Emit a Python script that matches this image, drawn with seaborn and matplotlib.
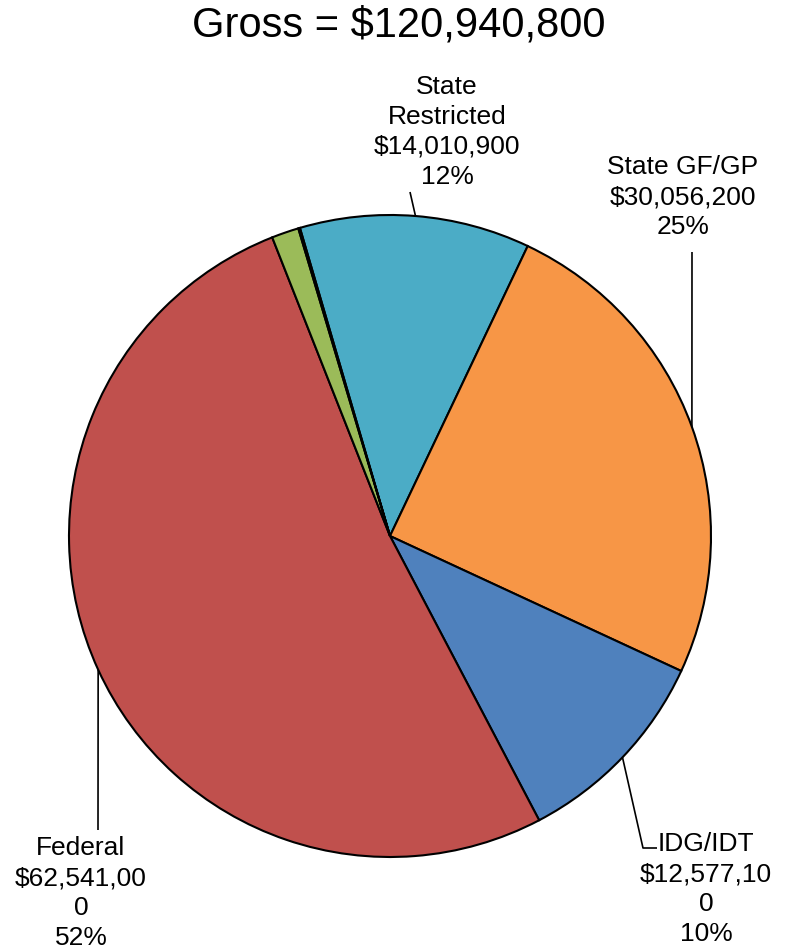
import numpy as np
import matplotlib
matplotlib.use("Agg")
import matplotlib.pyplot as plt
import seaborn as sns

sns.set_style("white")
plt.rcParams['font.family'] = ['Liberation Sans', 'DejaVu Sans']

# funding sources (two last slices have no label on the chart)
sources = ["State Restricted", "State GF/GP", "IDG/IDT", "Federal", "Other", "Other (small)"]
amounts = [14010900, 30056200, 12577100, 62541000, 1655600, 100000]
gross = 120940800
label_text = [
    "State\nRestricted\n$14,010,900\n12%",
    "State GF/GP\n$30,056,200\n25%",
    "IDG/IDT\n$12,577,10\n0\n10%",
    "Federal\n$62,541,00\n0\n52%",
]
colors = ["#4BACC6", "#F79646", "#4F81BD", "#C0504D", "#9BBB59", "#9BBB59"]

W, H = 786, 951
fig = plt.figure(figsize=(W / 100, H / 100), dpi=100)
ax = fig.add_axes([0, 0, 1, 1])
ax.axis("off")

cx, cy, R = 390, H - 536, 321
wedges, _ = ax.pie(amounts, colors=colors, center=(cx, cy), radius=R,
                   startangle=106.3, counterclock=False,
                   wedgeprops=dict(edgecolor="black", linewidth=1.5))
ax.set_xlim(0, W)
ax.set_ylim(0, H)
ax.set_aspect("equal")

def edge_point(w):
    th = np.deg2rad((w.theta1 + w.theta2) / 2)
    return cx + R * np.cos(th), cy + R * np.sin(th)

# label positions (pixel from top) and leader routes
label_pos = [(447, 132), (683, 197), (706, 889), (81, 893)]
leader_ends = [[(410, 192)], [(692, 252)], [(643, 848), (657, 848)], [(98, 830)]]

for i in range(4):
    x0, y0 = edge_point(wedges[i])
    xs = [x0] + [p[0] for p in leader_ends[i]]
    ys = [y0] + [H - p[1] for p in leader_ends[i]]
    ax.plot(xs, ys, color="black", lw=1.2, solid_capstyle="butt")
    lx, ly = label_pos[i]
    ax.text(lx, H - ly, label_text[i], ha="center", va="center",
            fontsize=19, linespacing=1.31, color="black")

ax.text(399, H - 25, "Gross = $" + format(gross, ","), ha="center", va="center",
        fontsize=30, color="black")

fig.savefig("out.png", dpi=100, facecolor="white")
